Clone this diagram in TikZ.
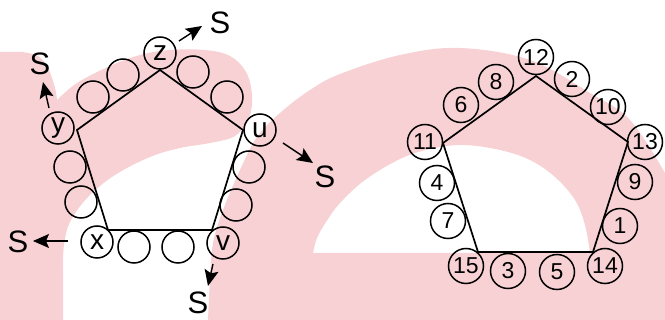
\documentclass[tikz,border=0pt]{standalone}
\usepackage{fontspec}
\setmainfont{Liberation Sans}
\usetikzlibrary{arrows.meta}
\definecolor{wm}{RGB}{248,209,212}
\begin{document}
\begin{tikzpicture}[x=1pt,y=-1pt,
  lc/.style={circle,draw,line width=1.5pt,minimum size=32pt,inner sep=0pt,font=\fontsize{28}{28}\selectfont},
  rc/.style={circle,draw,line width=1.5pt,minimum size=35pt,inner sep=0pt,font=\fontsize{23}{23}\selectfont},
  slab/.style={inner sep=0pt,font=\fontsize{31}{31}\selectfont},
  edge/.style={line width=1.7pt},
  arr/.style={line width=1.4pt,-{Stealth[length=16pt,width=14pt,inset=3pt]}}]
\useasboundingbox (0,0) rectangle (665,320);
% watermark background
\fill[wm] (0,320) -- (0,52) -- plot[smooth,tension=0.6] coordinates {(22,52) (38,56) (48,68) (55,88) (57,100)}
  -- plot[smooth,tension=0.6] coordinates {(57,100) (77,83) (110,66) (140,55) (170,50) (205,50) (230,56) (246,72) (252,95) (249,118) (235,136) (210,143) (180,148) (150,157) (115,175) (88,197) (70,222) (64,245) (63,265)}
  -- (63,320) -- cycle;
\fill[wm,even odd rule] (208,320) -- plot[smooth,tension=0.6] coordinates {(208,320) (210,280) (213,243) (223,210) (240,170) (257,137) (280,113) (310,90) (340,74) (400,55) (460,48) (530,60) (590,93) (630,120) (665,173)}
  -- (665,320) -- cycle
  (313,253) -- plot[smooth,tension=0.6] coordinates {(313,253) (317,238) (326,222) (340,203) (365,180) (400,159) (430,149) (463,145) (500,150) (530,160) (555,177) (575,200) (585,225) (590,253)} -- cycle;
% left pentagon
\coordinate (pz) at (160,70);
\coordinate (py) at (77,130);
\coordinate (pu) at (243,130);
\coordinate (px) at (108,230);
\coordinate (pv) at (212,230);
\draw[edge] (pz) -- (pu) -- (pv) -- (px) -- (py) -- cycle;
\node[lc] (z) at (160,53) {z};
\node[lc] (y) at (58,128) {y};
\node[lc] (u) at (260,130) {u};
\node[lc] (x) at (97,242) {x};
\node[lc] (v) at (223,243) {v};
\node[lc] (c1) at (93,97) {};
\node[lc] (c2) at (123,75) {};
\node[lc] (c3) at (193,72) {};
\node[lc] (c4) at (227,97) {};
\node[lc] (c5) at (249,167) {};
\node[lc] (c6) at (236,205) {};
\node[lc] (c7) at (134,247) {};
\node[lc] (c8) at (178,247) {};
\node[lc] (c9) at (70,167) {};
\node[lc] (c10) at (81,202) {};
% S labels and arrows
\node[slab] (Sz) at (220,23) {S};
\node[slab] (Sy) at (40,64) {S};
\node[slab] (Su) at (325,177) {S};
\node[slab] (Sx) at (18,242) {S};
\node[slab] (Sv) at (198,303) {S};
\coordinate (az0) at (179,41);  \coordinate (az1) at (202,26);
\coordinate (ay0) at (49,108);  \coordinate (ay1) at (43,82);
\coordinate (au0) at (283,143); \coordinate (au1) at (313,163);
\coordinate (ax0) at (68,241);  \coordinate (ax1) at (33,241);
\coordinate (av0) at (213,264); \coordinate (av1) at (208,286);
\draw[arr] (az0) -- (az1);
\draw[arr] (ay0) -- (ay1);
\draw[arr] (au0) -- (au1);
\draw[arr] (ax0) -- (ax1);
\draw[arr] (av0) -- (av1);
% right pentagon
\coordinate (q12) at (536,76);
\coordinate (q11) at (443,143);
\coordinate (q13) at (628,142);
\coordinate (q15) at (478,252);
\coordinate (q14) at (593,252);
\draw[edge] (q12) -- (q13) -- (q14) -- (q15) -- (q11) -- cycle;
\node[rc] (n12) at (536,57) {12};
\node[rc] (n2) at (572,79) {2};
\node[rc] (n10) at (608,107) {10};
\node[rc] (n13) at (645,142) {13};
\node[rc] (n9) at (635,182) {9};
\node[rc] (n1) at (620,226) {1};
\node[rc] (n14) at (605,266) {14};
\node[rc] (n5) at (557,272) {5};
\node[rc] (n3) at (508,271) {3};
\node[rc] (n15) at (466,266) {15};
\node[rc] (n7) at (448,221) {7};
\node[rc] (n4) at (437,183) {4};
\node[rc] (n11) at (425,142) {11};
\node[rc] (n6) at (461,105) {6};
\node[rc] (n8) at (496,82) {8};
\end{tikzpicture}
\end{document}
